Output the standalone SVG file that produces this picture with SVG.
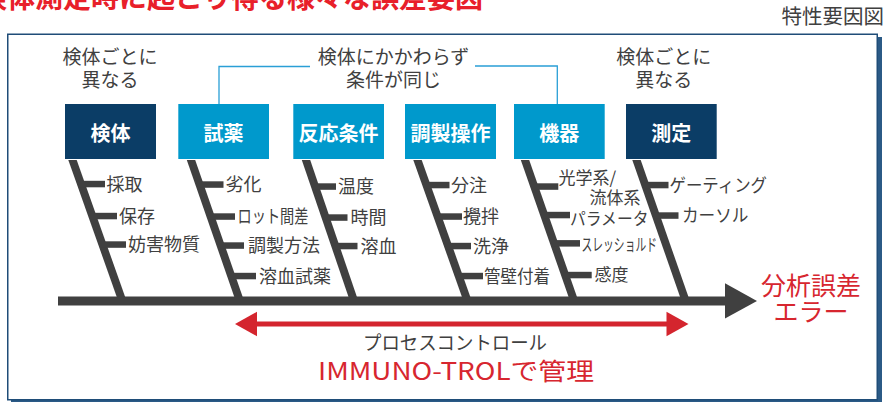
<svg xmlns="http://www.w3.org/2000/svg" width="884" height="403" viewBox="0 0 884 403">
<defs>
<style>
text{font-family:"Noto Sans CJK JP","Noto Sans",sans-serif;}
.g{fill:#404040;}
.r{fill:#d7262f;}
.t18{font-size:18px;}
.t17{font-size:17px;}
.hd{font-size:19px;fill:#404040;text-anchor:middle;}
.bx{font-size:20px;font-weight:bold;fill:#ffffff;text-anchor:middle;}
.navy{fill:#0b3d66;}
.cyan{fill:#0099cc;}
.bone{fill:#404040;}
.br{fill:none;stroke:#2a9fd6;stroke-width:1.3;}
</style>
</defs>
<rect width="884" height="403" fill="#ffffff"/>
<text x="483" y="8" text-anchor="end" style="font-size:28px;font-weight:bold;fill:#e8202a;">検体測定時に起こり得る様々な誤差要因</text>
<text x="884" y="23.5" text-anchor="end" class="g" style="font-size:20.5px;">特性要因図</text>
<g id="frame">
<rect x="11" y="37" width="871" height="365" fill="#2b5a86"/>
<rect x="7.75" y="34.25" width="869.5" height="365.5" fill="#ffffff" stroke="#1f4d78" stroke-width="1.5"/>
</g>
<g id="headings">
<text class="hd"><tspan x="110" y="63.7">検体ごとに</tspan><tspan x="110" y="86.7">異なる</tspan></text>
<text class="hd"><tspan x="393.5" y="63.7">検体にかかわらず</tspan><tspan x="393.5" y="86.7">条件が同じ</tspan></text>
<text class="hd"><tspan x="663.7" y="63.7">検体ごとに</tspan><tspan x="663.7" y="86.7">異なる</tspan></text>
</g>
<g id="connectors">
<polyline class="br" points="219,104 219,66.5 310,66.5"/>
<polyline class="br" points="475,66 557.3,66 557.3,104"/>
<rect class="bone" x="58" y="296.5" width="668" height="9"/>
<polygon class="bone" points="725,283.3 757,301 725,318.5"/>
<polygon class="bone" points="68.3,160 76.7,160 126.6,301 118.2,301"/>
<polygon class="bone" points="186.8,160 195.2,160 244.1,301 235.7,301"/>
<polygon class="bone" points="301.8,160 310.2,160 358.3,301 349.9,301"/>
<polygon class="bone" points="413.3,160 421.7,160 471.8,301 463.4,301"/>
<polygon class="bone" points="520.8,160 529.2,160 578.4,301 570,301"/>
<polygon class="bone" points="632.3,160 640.7,160 689.9,301 681.5,301"/>
<g id="ribs">
<rect class="bone" x="80" y="180.8" width="25" height="6.5"/>
<rect class="bone" x="91" y="212.8" width="26" height="6.5"/>
<rect class="bone" x="101" y="241.3" width="25" height="6.5"/>
<rect class="bone" x="199" y="181.3" width="24.5" height="6.5"/>
<rect class="bone" x="210" y="213.3" width="25" height="6.5"/>
<rect class="bone" x="220" y="242.3" width="24" height="6.5"/>
<rect class="bone" x="231" y="272.8" width="25" height="6.5"/>
<rect class="bone" x="315" y="183.3" width="21" height="6.5"/>
<rect class="bone" x="325" y="214.3" width="22.5" height="6.5"/>
<rect class="bone" x="335" y="242.8" width="22.5" height="6.5"/>
<rect class="bone" x="426" y="181.8" width="23.5" height="6.5"/>
<rect class="bone" x="437" y="213.3" width="25" height="6.5"/>
<rect class="bone" x="447" y="242.8" width="24" height="6.5"/>
<rect class="bone" x="458" y="272.8" width="25" height="6.5"/>
<rect class="bone" x="534" y="183.3" width="24.3" height="6.5"/>
<rect class="bone" x="544" y="211.8" width="26" height="6.5"/>
<rect class="bone" x="554" y="240.1" width="26" height="6.5"/>
<rect class="bone" x="565" y="271.8" width="26.7" height="6.5"/>
<rect class="bone" x="645" y="181.8" width="23.5" height="6.5"/>
<rect class="bone" x="655" y="212.3" width="23.5" height="6.5"/>
</g>
<g id="process-arrow">
<rect x="256" y="321.5" width="411" height="5" fill="#d4252e"/>
<polygon points="235,324 257,311.8 257,336.2" fill="#d4252e"/>
<polygon points="688.5,324 666.5,311.8 666.5,336.2" fill="#d4252e"/>
</g>
</g>
<g id="node-kentai">
<rect class="navy" x="65" y="104" width="91" height="55"/>
<text class="bx" x="110.5" y="140.5">検体</text>
<text class="g t18" x="106.5" y="190.5">採取</text>
<text class="g t18" x="119" y="222.5">保存</text>
<text class="g t18" x="128" y="251">妨害物質</text>
</g>
<g id="node-shiyaku">
<rect class="cyan" x="178.3" y="104" width="90.7" height="55"/>
<text class="bx" x="223.6" y="140.5">試薬</text>
<text class="g t18" x="225.5" y="191">劣化</text>
<text class="g t18" x="237.5" y="223" textLength="71" lengthAdjust="spacingAndGlyphs">ロット間差</text>
<text class="g t18" x="248" y="252">調製方法</text>
<text class="g t18" x="259" y="282.5">溶血試薬</text>
</g>
<g id="node-hannou">
<rect class="cyan" x="293.3" y="104" width="90.7" height="55"/>
<text class="bx" x="338.6" y="140.5">反応条件</text>
<text class="g t18" x="338" y="193">温度</text>
<text class="g t18" x="350.5" y="224">時間</text>
<text class="g t18" x="360.5" y="252.5">溶血</text>
</g>
<g id="node-chousei">
<rect class="cyan" x="405" y="104" width="91" height="55"/>
<text class="bx" x="450.5" y="140.5">調製操作</text>
<text class="g t18" x="451" y="191.5">分注</text>
<text class="g t18" x="463" y="223">攪拌</text>
<text class="g t18" x="473" y="252.5">洗浄</text>
<text class="g t18" x="484" y="282.5" textLength="66" lengthAdjust="spacingAndGlyphs">管壁付着</text>
</g>
<g id="node-kiki">
<rect class="cyan" x="514" y="104" width="90.7" height="55"/>
<text class="bx" x="559.3" y="140.5">機器</text>
<text class="g t17"><tspan x="558.5" y="184">光学系/</tspan><tspan x="589.5" y="204">流体系</tspan><tspan x="570" y="224.5" textLength="78.5" lengthAdjust="spacingAndGlyphs">パラメータ</tspan></text>
<text class="g t17" x="581.5" y="251" textLength="75.5" lengthAdjust="spacingAndGlyphs">スレッショルド</text>
<text class="g t17" x="594.5" y="280.5">感度</text>
</g>
<g id="node-sokutei">
<rect class="navy" x="626" y="104" width="90.7" height="55"/>
<text class="bx" x="671.3" y="140.5">測定</text>
<text class="g t18" x="669.5" y="191.5" textLength="97.5" lengthAdjust="spacingAndGlyphs">ゲーティング</text>
<text class="g t18" x="682" y="222" textLength="66.5" lengthAdjust="spacingAndGlyphs">カーソル</text>
</g>
<g id="node-error">
<text class="r" text-anchor="middle" style="font-size:25px;"><tspan x="811" y="295">分析誤差</tspan><tspan x="811" y="320.5">エラー</tspan></text>
</g>
<g id="node-process">
<text class="g" x="455" y="350" text-anchor="middle" style="font-size:19px;" textLength="184" lengthAdjust="spacingAndGlyphs">プロセスコントロール</text>
<text class="r" x="456" y="379.5" text-anchor="middle" style="font-size:24px;" textLength="276" lengthAdjust="spacingAndGlyphs">IMMUNO-TROLで管理</text>
</g>
</svg>
